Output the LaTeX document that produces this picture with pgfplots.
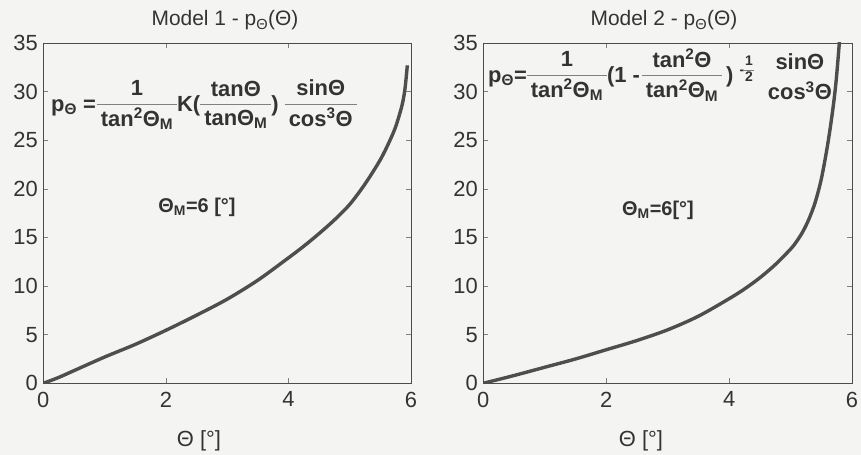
\documentclass[border=0pt]{standalone}
\usepackage{fontspec}
\setmainfont{Liberation Sans}
\usepackage{pgfplots}
\pgfplotsset{compat=1.18}
\definecolor{ink}{HTML}{333333}
\definecolor{curve}{HTML}{4E4E4E}
\definecolor{bg}{HTML}{F4F4F2}
\newcommand\fr[2]{{\color{black!50}\begin{tabular}{@{\hspace{4bp}}c@{\hspace{4bp}}}\color{ink}#1\\[1bp]\hline\noalign{\vskip4bp}\color{ink}#2\end{tabular}}}
\newcommand\frs[2]{{\color{black!50}\begin{tabular}{@{\hspace{1bp}}c@{\hspace{1bp}}}\color{ink}#1\\\hline\noalign{\vskip1bp}\color{ink}#2\end{tabular}}}
\newcommand\frn[2]{\begin{tabular}{@{\hspace{2bp}}c@{\hspace{2bp}}}#1\\[1bp]\noalign{\vskip4bp}#2\end{tabular}}
\pgfplotstableread{
t p
0 0
0.25 0.6
0.5 1.3
1 2.7
1.5 4.0
2 5.45
2.5 7.0
3 8.65
3.5 10.6
4 12.9
4.25 14.1
4.5 15.4
4.75 16.8
5 18.4
5.25 20.5
5.5 23.0
5.65 24.9
5.75 26.4
5.85 28.5
5.9 30.2
5.94 32.7
}\modelone
\pgfplotstableread{
t p
0 0
0.5 0.8
1 1.65
1.5 2.5
2 3.45
2.5 4.4
3 5.5
3.5 6.9
4 8.7
4.25 9.7
4.5 10.85
4.75 12.2
5 13.8
5.1 14.6
5.2 15.6
5.3 16.9
5.4 18.6
5.5 21.0
5.6 24.4
5.68 27.8
5.74 31.0
5.8 35.5
5.84 39
}\modeltwo
\begin{document}
\begin{tikzpicture}[x=1bp,y=1bp]
\fill[bg] (0,0) rectangle (861,455);
\useasboundingbox (0,0) rectangle (861,455);
\pgfplotsset{myax/.style={
  anchor=south west, scale only axis, height=340.3bp,
  xmin=0, xmax=6, ymin=0, ymax=35,
  xtick={0,2,4,6}, ytick={0,5,...,35},
  tick align=inside, tick pos=both,
  major tick length=5bp,
  axis line style={black!70, line width=0.6bp},
  every tick/.style={black!50, line width=0.5bp},
  ticklabel style={font=\fontsize{22}{24}\selectfont, text=ink},
  /pgf/number format/assume math mode=true,
  xticklabel style={yshift=-5bp},
  yticklabel style={xshift=-2bp},
  clip=true,
}}
\begin{axis}[myax, at={(43.3bp,71.7bp)}, width=367.7bp]
\addplot[curve, line width=3.4bp, smooth] table[x=t,y=p] {\modelone};
\end{axis}
\begin{axis}[myax, at={(483.3bp,71.7bp)}, width=368.7bp]
\addplot[curve, line width=3.4bp, smooth] table[x=t,y=p] {\modeltwo};
\end{axis}
% titles
\node[anchor=base, text=ink, font=\fontsize{21}{24}\selectfont] at (225,429) {Model 1 - p\textsubscript{Θ}(Θ)};
\node[anchor=base, text=ink, font=\fontsize{21}{24}\selectfont] at (664,429) {Model 2 - p\textsubscript{Θ}(Θ)};
% x labels
\node[anchor=base, text=ink, font=\fontsize{22}{24}\selectfont] at (199,8) {Θ [°]};
\node[anchor=base, text=ink, font=\fontsize{22}{24}\selectfont] at (641,8) {Θ [°]};
% formulas
\node[anchor=west, inner sep=0, text=ink, font=\bfseries\fontsize{22}{24}\selectfont] at (51,349)
  {p\textsubscript{Θ} =\hspace{1bp}\fr{1}{tan\textsuperscript{2}Θ\textsubscript{M}}K(\fr{tanΘ}{tanΘ\textsubscript{M}})\hspace{6bp}\fr{sinΘ}{cos\textsuperscript{3}Θ}};
\node[anchor=west, inner sep=0, text=ink, font=\bfseries\fontsize{22}{24}\selectfont] at (488,377)
  {p\textsubscript{Θ}=\fr{1}{tan\textsuperscript{2}Θ\textsubscript{M}}(1 -\hspace{2bp}\fr{tan\textsuperscript{2}Θ}{tan\textsuperscript{2}Θ\textsubscript{M}}\hspace{4bp}) \raisebox{8bp}{\fontsize{14}{15}\selectfont -\frs{1}{2}}\hspace{12bp}\raisebox{-3bp}{\frn{sinΘ}{cos\textsuperscript{3}Θ}}};
\node[text=ink, font=\bfseries\fontsize{20}{24}\selectfont] at (197,248) {Θ\textsubscript{M}=6 [°]};
\node[text=ink, font=\bfseries\fontsize{20}{24}\selectfont] at (658,245) {Θ\textsubscript{M}=6[°]};
\end{tikzpicture}
\end{document}
